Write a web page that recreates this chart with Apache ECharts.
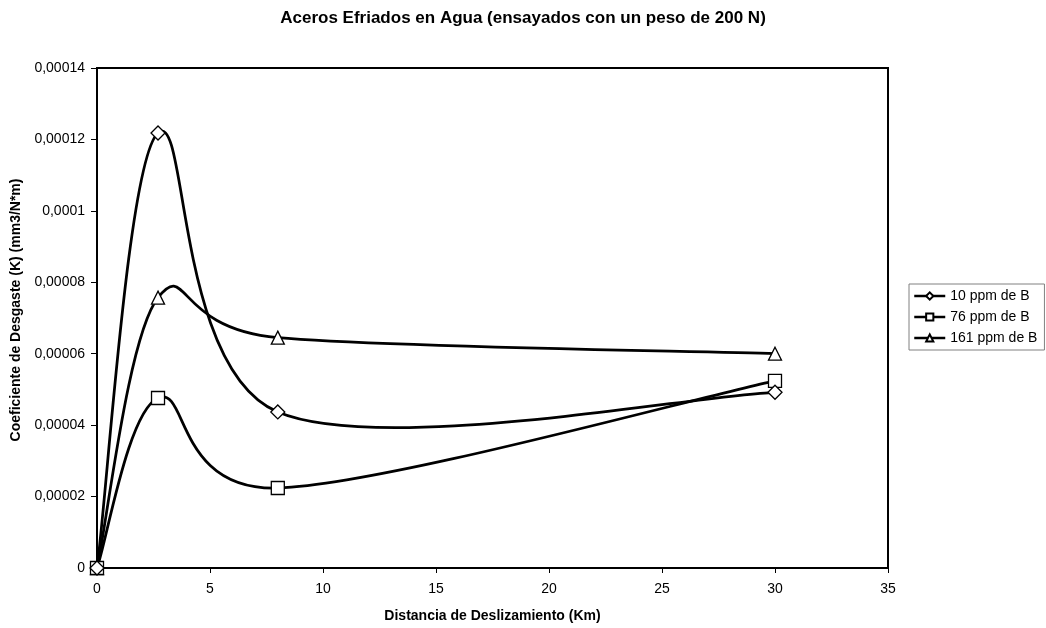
<!DOCTYPE html>
<html>
<head>
<meta charset="utf-8">
<script src="https://cdn.jsdelivr.net/npm/echarts@6/dist/echarts.min.js"></script>
<style>
  html, body { margin: 0; padding: 0; background: #fff; }
  #chart { width: 1046px; height: 628px; }
</style>
</head>
<body>
<div id="chart"></div>
<script>
// Sliding distance (km) at which wear was measured
const distances = [0, 2.7, 8, 30];
// Wear coefficient K (mm3/N*m) per boron content
const ppm10 = [0, 0.0001218, 0.0000437, 0.0000492];
const ppm76 = [0, 0.0000476, 0.0000224, 0.0000524];
const ppm161 = [0, 0.0000757, 0.0000645, 0.0000600];
const seriesNames = ['10 ppm de B', '76 ppm de B', '161 ppm de B'];
const seriesSymbols = ['diamond', 'rect', 'triangle'];
const seriesSymbolSizes = [14, 13, 13];

const seriesValues = [ppm10, ppm76, ppm161];
const font = '"Liberation Sans", Arial, sans-serif';
const lineWidth = 2.75;

function pairs(values) {
  return distances.map((d, i) => [d, values[i]]);
}

function decimalComma(v) {
  return parseFloat(v.toPrecision(6)).toString().replace('.', ',');
}

// Smoothed curve: one cubic Bezier per segment, tangents from the neighbouring
// points (Catmull-Rom, 1/6 tension), positioned through the axis scales.
function curveRenderer(values) {
  return function (params, api) {
    const n = distances.length;
    const i = params.dataIndex;
    if (i >= n - 1) return null;
    const pts = distances.map((d, j) => api.coord([d, values[j]]));
    const p0 = pts[Math.max(i - 1, 0)];
    const p1 = pts[i];
    const p2 = pts[i + 1];
    const p3 = pts[Math.min(i + 2, n - 1)];
    return {
      type: 'bezierCurve',
      shape: {
        x1: p1[0], y1: p1[1],
        x2: p2[0], y2: p2[1],
        cpx1: p1[0] + (p2[0] - p0[0]) / 6,
        cpy1: p1[1] + (p2[1] - p0[1]) / 6,
        cpx2: p2[0] - (p3[0] - p1[0]) / 6,
        cpy2: p2[1] - (p3[1] - p1[1]) / 6
      },
      style: { stroke: '#000', lineWidth: lineWidth, fill: 'none', lineCap: 'round' }
    };
  };
}

const curveSeries = seriesValues.map((values) => ({
  type: 'custom',
  coordinateSystem: 'cartesian2d',
  data: pairs(values),
  renderItem: curveRenderer(values),
  silent: true,
  z: 2
}));

const markerSeries = seriesNames.map((name, i) => ({
  name: name,
  type: 'line',
  data: pairs(seriesValues[i]),
  symbol: seriesSymbols[i],
  symbolSize: seriesSymbolSizes[i],
  showAllSymbol: true,
  lineStyle: { color: '#000', width: 0, opacity: 0 },
  itemStyle: { color: '#fff', borderColor: '#000', borderWidth: 1.3 },
  z: 5 - i
}));

const chart = echarts.init(document.getElementById('chart'), null, { renderer: 'canvas' });
chart.setOption({
  animation: false,
  backgroundColor: '#ffffff',
  title: {
    text: 'Aceros Efriados en Agua (ensayados con un peso de 200 N)',
    left: 'center',
    top: 5,
    textStyle: { fontFamily: font, fontSize: 17, fontWeight: 'bold', color: '#000' }
  },
  legend: {
    orient: 'vertical',
    left: 909,
    top: 284,
    padding: [5, 7, 5, 4],
    itemGap: 7,
    itemWidth: 31,
    itemHeight: 9,
    borderColor: '#808080',
    borderWidth: 1,
    lineStyle: { color: '#000', width: 2.5, opacity: 1 },
    textStyle: { fontFamily: font, fontSize: 14, color: '#000' },
    data: seriesNames
  },
  grid: {
    left: 97, right: 158, top: 68, bottom: 60,
    show: true, borderColor: '#000', borderWidth: 2, backgroundColor: '#fff'
  },
  xAxis: {
    type: 'value',
    min: 0, max: 35, interval: 5,
    name: 'Distancia de Deslizamiento (Km)',
    nameLocation: 'middle',
    nameGap: 41,
    nameTextStyle: { fontFamily: font, fontSize: 14, fontWeight: 'bold', color: '#000' },
    axisLine: { lineStyle: { color: '#000', width: 2 } },
    axisTick: { show: true, length: 5, lineStyle: { color: '#000' } },
    axisLabel: { fontFamily: font, fontSize: 14, color: '#000', margin: 14 },
    splitLine: { show: false }
  },
  yAxis: {
    type: 'value',
    min: 0, max: 0.00014, interval: 0.00002,
    name: 'Coeficiente de Desgaste (K) (mm3/N*m)',
    nameLocation: 'middle',
    nameGap: 69,
    nameTextStyle: { fontFamily: font, fontSize: 14, fontWeight: 'bold', color: '#000', padding: [0, 0, 0, 16] },
    axisLine: { lineStyle: { color: '#000', width: 2 } },
    axisTick: { show: true, length: 6, lineStyle: { color: '#000' } },
    axisLabel: { fontFamily: font, fontSize: 14, color: '#000', margin: 12, formatter: decimalComma },
    splitLine: { show: false }
  },
  series: curveSeries.concat(markerSeries)
});
</script>
</body>
</html>
